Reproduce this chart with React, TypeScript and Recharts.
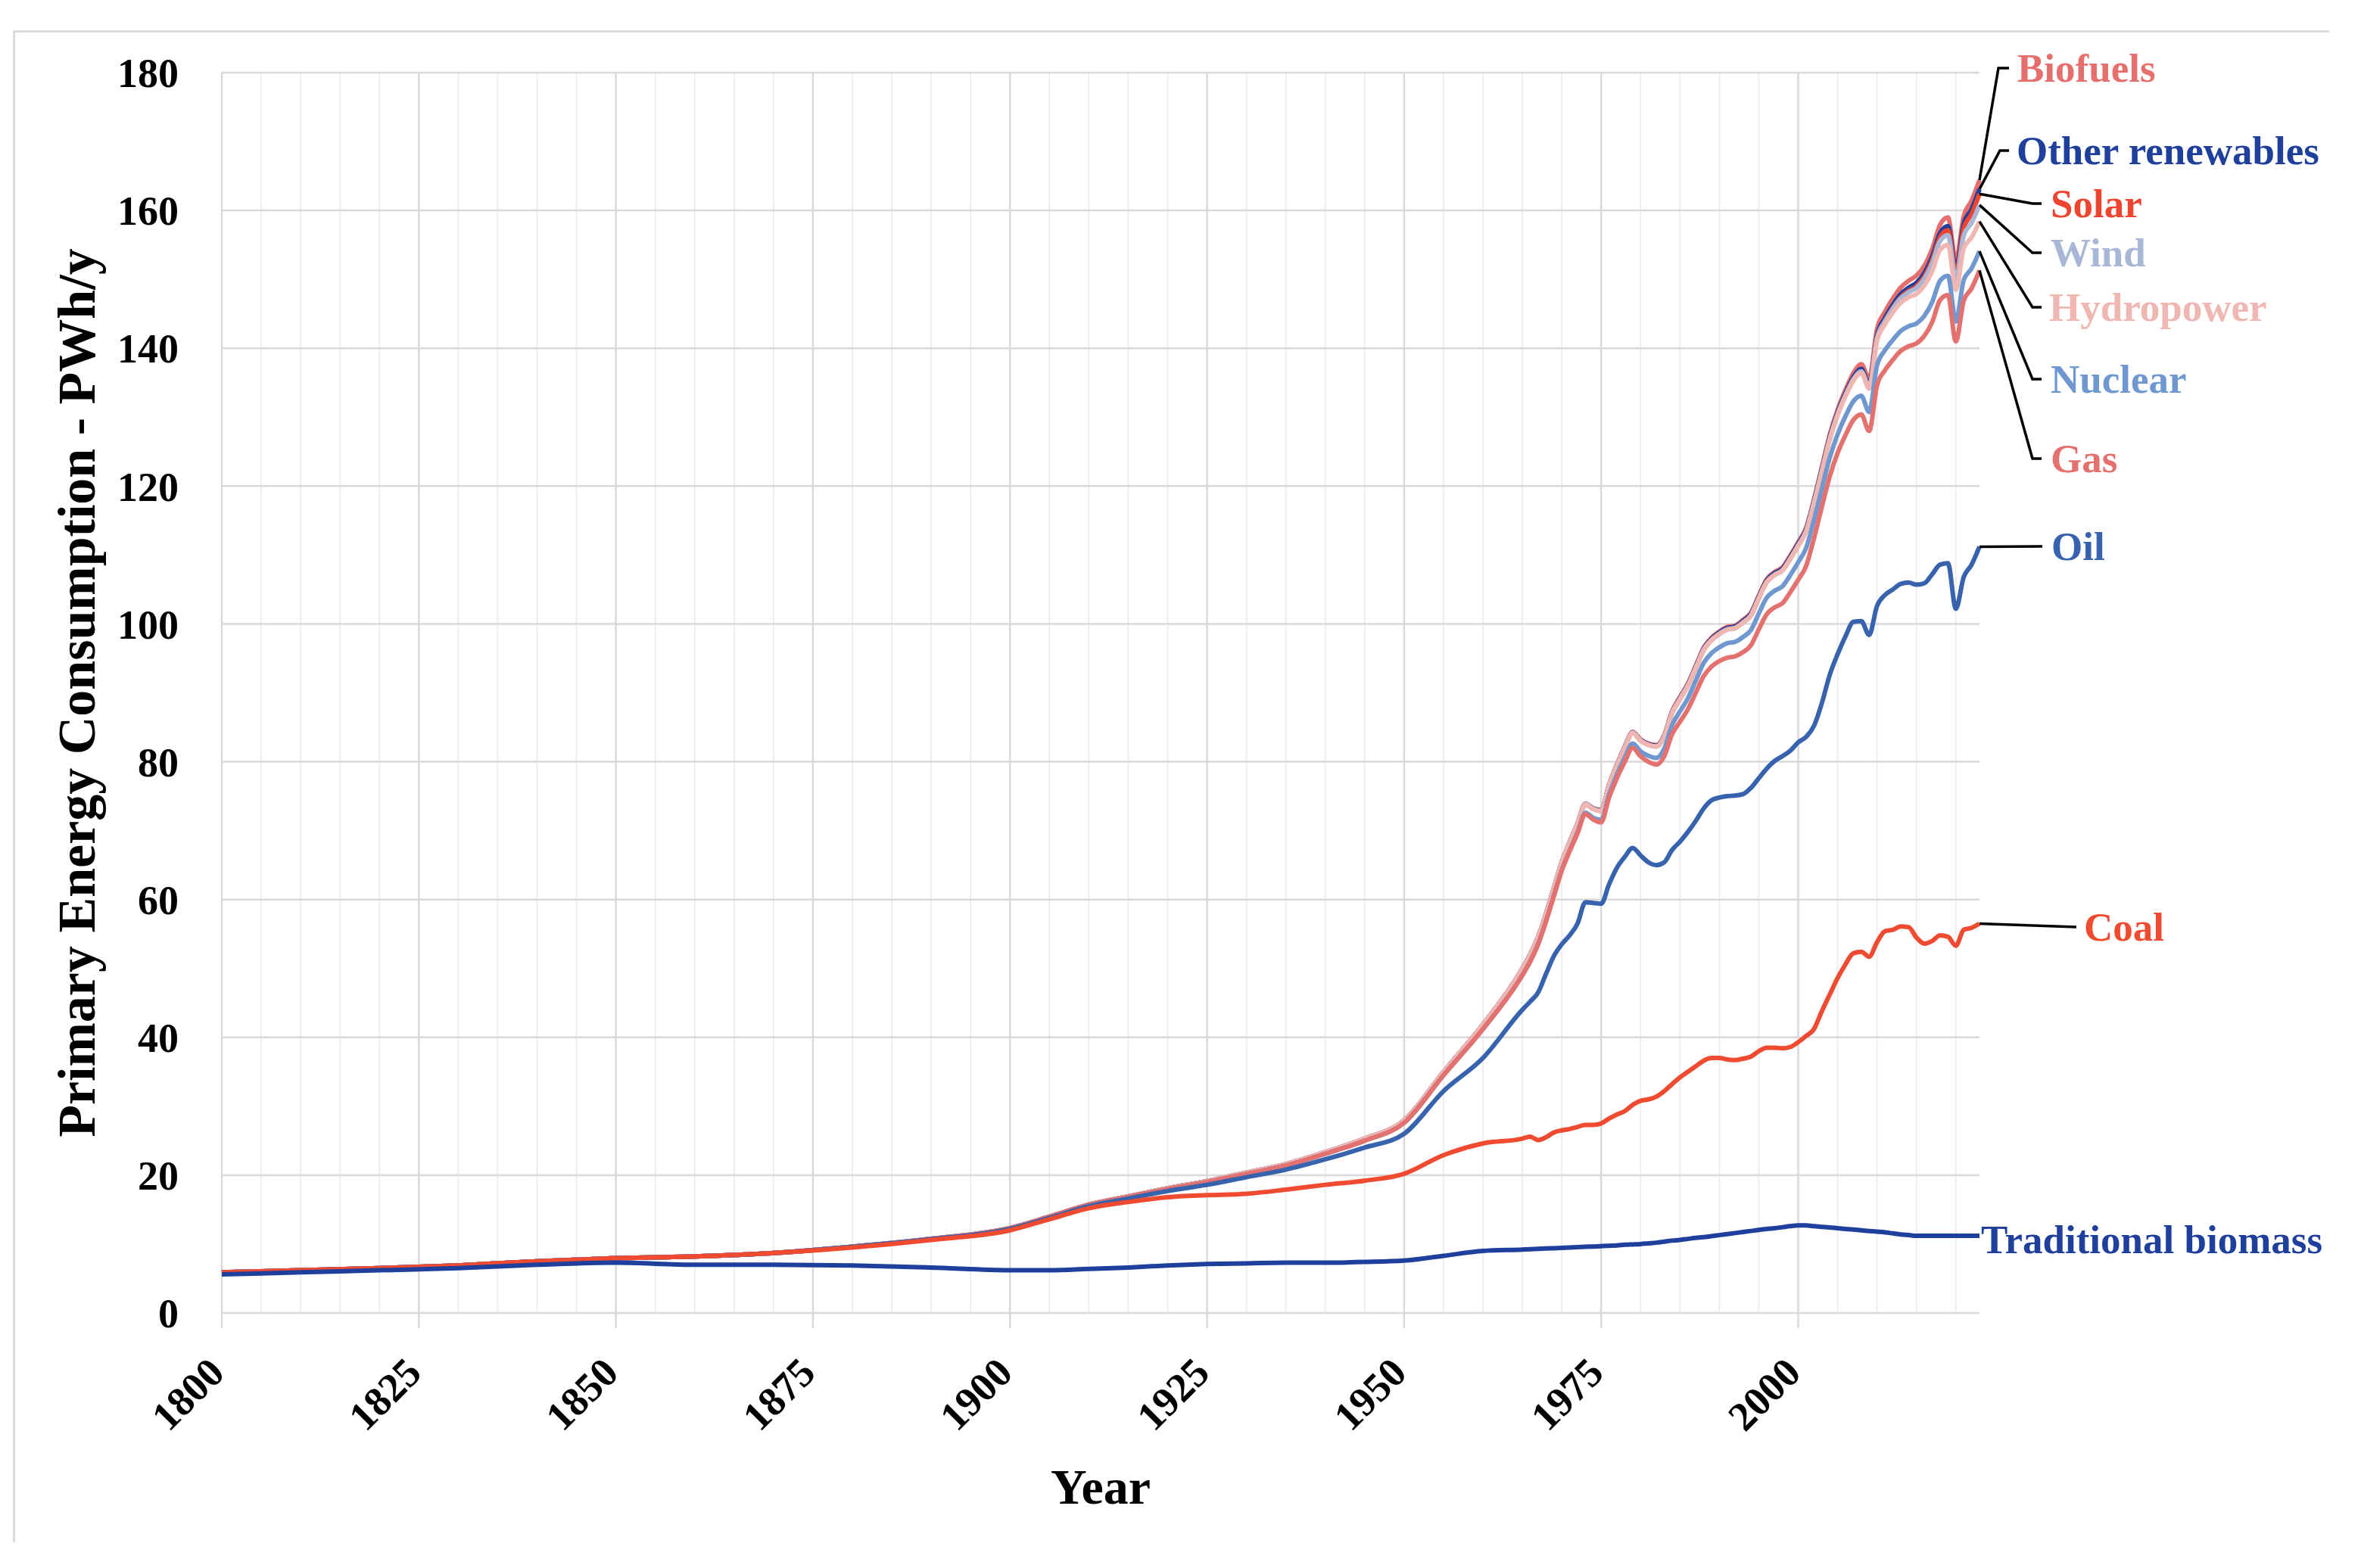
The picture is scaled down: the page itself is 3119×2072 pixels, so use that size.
import React from 'react';
import { LineChart, Line, XAxis, YAxis, CartesianGrid, Label } from 'recharts';

// ---------------- DATA (PWh/y, each source's own consumption) ----------------
const years = [
  1800, 1810, 1820, 1830, 1840, 1850, 1860, 1870, 1880, 1890,
  1900, 1905, 1910, 1915, 1920, 1925, 1930, 1935, 1940, 1945,
  1950, 1955, 1960,
  1965, 1966, 1967, 1968, 1969, 1970, 1971, 1972, 1973, 1974,
  1975, 1976, 1977, 1978, 1979, 1980, 1981, 1982, 1983, 1984,
  1985, 1986, 1987, 1988, 1989, 1990, 1991, 1992, 1993, 1994,
  1995, 1996, 1997, 1998, 1999, 2000, 2001, 2002, 2003, 2004,
  2005, 2006, 2007, 2008, 2009, 2010, 2011, 2012, 2013, 2014,
  2015, 2016, 2017, 2018, 2019, 2020, 2021, 2022, 2023,
];

const traditionalBiomass = [
  5.6, 5.9, 6.2, 6.5, 7.0, 7.3, 7.0, 7.0, 6.9, 6.6,
  6.2, 6.2, 6.4, 6.6, 6.9, 7.1, 7.2, 7.3, 7.3, 7.4,
  7.6, 8.3, 9.0,
  9.2, 9.25, 9.3, 9.35, 9.4, 9.45, 9.5, 9.55, 9.6, 9.65,
  9.7, 9.75, 9.8, 9.9, 9.95, 10.0, 10.1, 10.2, 10.35, 10.5,
  10.6, 10.75, 10.9, 11.0, 11.15, 11.3, 11.45, 11.6, 11.75, 11.9,
  12.05, 12.2, 12.3, 12.45, 12.6, 12.7, 12.7, 12.6, 12.5, 12.4,
  12.3, 12.2, 12.1, 12.0, 11.9, 11.8, 11.7, 11.55, 11.4, 11.3,
  11.2, 11.2, 11.2, 11.2, 11.2, 11.2, 11.2, 11.2, 11.2,
];

const coal = [
  0.3, 0.3, 0.3, 0.4, 0.5, 0.65, 1.2, 1.7, 2.6, 4.0,
  5.8, 7.4, 8.8, 9.5, 9.9, 10.0, 10.1, 10.6, 11.3, 11.8,
  12.6, 14.6, 15.6,
  16.1, 16.35, 15.8, 16.15, 16.8, 17.05, 17.2, 17.45, 17.7, 17.65,
  17.8, 18.45, 19.0, 19.4, 20.25, 20.8, 20.9, 21.2, 21.85, 22.7,
  23.6, 24.25, 24.9, 25.6, 25.85, 25.7, 25.35, 25.1, 25.15, 25.3,
  25.95, 26.3, 26.2, 25.95, 26.0, 26.6, 27.5, 28.6, 31.3, 33.8,
  36.3, 38.4, 40.1, 40.4, 39.8, 42.0, 43.7, 44.05, 44.7, 44.7,
  43.3, 42.4, 42.8, 43.6, 43.4, 42.1, 44.4, 44.7, 45.3,
];

const oil = [
  0, 0, 0, 0, 0, 0, 0, 0, 0.1, 0.1,
  0.2, 0.2, 0.3, 0.5, 0.9, 1.5, 2.4, 2.9, 3.7, 4.8,
  5.8, 9.3, 12.4,
  18.7, 19.6, 21.4, 23.7, 25.6, 27.0, 28.1, 29.5, 32.3, 32.2,
  31.9, 34.0, 35.8, 36.9, 37.3, 35.6, 34.4, 33.6, 33.2, 34.0,
  34.2, 34.8, 35.6, 36.6, 37.4, 37.8, 38.2, 38.4, 38.4, 39.0,
  39.6, 40.5, 41.6, 42.4, 43.0, 43.5, 43.4, 44.0, 44.7, 46.4,
  47.0, 47.6, 48.1, 48.0, 46.7, 48.8, 48.8, 49.4, 49.7, 50.0,
  51.2, 52.3, 53.2, 53.8, 54.2, 48.9, 51.2, 52.7, 54.7,
];

const gas = [
  0, 0, 0, 0, 0, 0, 0, 0, 0.02, 0.05,
  0.1, 0.15, 0.2, 0.25, 0.3, 0.4, 0.5, 0.6, 0.8, 1.0,
  1.6, 2.3, 4.2,
  5.0, 5.8, 7.0, 7.6, 8.7, 10.7, 12.2, 13.1, 12.8, 12.1,
  11.8, 12.6, 13.0, 13.8, 14.5, 14.4, 14.6, 14.6, 15.4, 16.8,
  17.4, 17.8, 18.6, 19.2, 19.4, 19.8, 20.1, 20.2, 20.6, 20.7,
  21.6, 22.4, 22.3, 22.2, 23.0, 23.6, 24.8, 27.2, 28.5, 28.8,
  29.2, 29.2, 29.3, 30.0, 29.6, 32.0, 32.6, 33.3, 33.8, 34.3,
  35.0, 35.9, 36.6, 38.4, 38.9, 38.8, 40.1, 40.1, 40.1,
];

const nuclear = [
  0, 0, 0, 0, 0, 0, 0, 0, 0, 0,
  0, 0, 0, 0, 0, 0, 0, 0, 0, 0,
  0, 0, 0.01,
  0.03, 0.04, 0.05, 0.06, 0.07, 0.08, 0.11, 0.15, 0.2, 0.25,
  0.35, 0.4, 0.5, 0.6, 0.65, 0.7, 0.85, 0.95, 1.1, 1.3,
  1.5, 1.6, 1.75, 1.9, 1.95, 2.0, 2.1, 2.1, 2.2, 2.2,
  2.3, 2.4, 2.4, 2.45, 2.5, 2.55, 2.6, 2.65, 2.6, 2.7,
  2.7, 2.75, 2.7, 2.7, 2.75, 2.9, 2.9, 2.9, 2.9, 2.9,
  2.9, 2.9, 2.9, 2.8, 2.8, 2.9, 3.0, 2.9, 2.8,
];

const hydropower = [
  0, 0, 0, 0, 0, 0, 0, 0, 0, 0.01,
  0.02, 0.03, 0.05, 0.07, 0.1, 0.13, 0.17, 0.2, 0.25, 0.3,
  0.35, 0.5, 0.65,
  0.9, 0.95, 0.97, 1.0, 1.05, 1.1, 1.15, 1.2, 1.22, 1.3,
  1.33, 1.35, 1.38, 1.48, 1.55, 1.58, 1.6, 1.65, 1.72, 1.76,
  1.8, 1.82, 1.85, 1.9, 1.9, 1.95, 2.0, 2.0, 2.1, 2.12,
  2.2, 2.25, 2.3, 2.3, 2.35, 2.4, 2.4, 2.45, 2.5, 2.65,
  2.8, 2.9, 3.0, 3.3, 3.4, 3.6, 3.75, 4.0, 4.1, 4.2,
  4.3, 4.4, 4.5, 4.5, 4.5, 4.6, 4.6, 4.5, 4.3,
];

const wind = [
  0, 0, 0, 0, 0, 0, 0, 0, 0, 0,
  0, 0, 0, 0, 0, 0, 0, 0, 0, 0,
  0, 0, 0,
  0, 0, 0, 0, 0, 0, 0, 0, 0, 0,
  0, 0, 0, 0, 0, 0, 0, 0, 0, 0,
  0, 0, 0, 0, 0, 0.005, 0.006, 0.008, 0.01, 0.01,
  0.015, 0.02, 0.02, 0.03, 0.04, 0.05, 0.06, 0.07, 0.09, 0.1,
  0.12, 0.15, 0.19, 0.24, 0.3, 0.37, 0.45, 0.55, 0.65, 0.72,
  0.85, 0.97, 1.13, 1.27, 1.42, 1.6, 1.85, 2.1, 2.4,
];

const solar = [
  0, 0, 0, 0, 0, 0, 0, 0, 0, 0,
  0, 0, 0, 0, 0, 0, 0, 0, 0, 0,
  0, 0, 0,
  0, 0, 0, 0, 0, 0, 0, 0, 0, 0,
  0, 0, 0, 0, 0, 0, 0, 0, 0, 0,
  0, 0, 0, 0, 0, 0, 0, 0, 0, 0,
  0, 0, 0, 0, 0, 0.001, 0.001, 0.002, 0.002, 0.003,
  0.004, 0.006, 0.008, 0.012, 0.02, 0.03, 0.06, 0.1, 0.14, 0.19,
  0.25, 0.33, 0.44, 0.57, 0.7, 0.85, 1.03, 1.3, 1.6,
];

const otherRenewables = [
  0, 0, 0, 0, 0, 0, 0, 0, 0, 0,
  0, 0, 0, 0, 0, 0, 0, 0, 0, 0,
  0, 0, 0,
  0.05, 0.05, 0.05, 0.05, 0.06, 0.06, 0.06, 0.07, 0.07, 0.07,
  0.08, 0.08, 0.08, 0.09, 0.09, 0.1, 0.11, 0.12, 0.13, 0.14,
  0.15, 0.16, 0.17, 0.18, 0.19, 0.2, 0.2, 0.21, 0.21, 0.22,
  0.22, 0.23, 0.23, 0.24, 0.24, 0.25, 0.26, 0.27, 0.28, 0.29,
  0.3, 0.31, 0.32, 0.34, 0.36, 0.4, 0.42, 0.44, 0.46, 0.48,
  0.5, 0.52, 0.55, 0.58, 0.62, 0.65, 0.67, 0.69, 0.7,
];

const biofuels = [
  0, 0, 0, 0, 0, 0, 0, 0, 0, 0,
  0, 0, 0, 0, 0, 0, 0, 0, 0, 0,
  0, 0, 0,
  0, 0, 0, 0, 0, 0, 0, 0, 0, 0,
  0.01, 0.01, 0.02, 0.03, 0.04, 0.05, 0.07, 0.09, 0.11, 0.13,
  0.15, 0.15, 0.15, 0.15, 0.15, 0.15, 0.16, 0.16, 0.17, 0.17,
  0.18, 0.18, 0.19, 0.19, 0.2, 0.2, 0.21, 0.23, 0.26, 0.3,
  0.35, 0.45, 0.58, 0.7, 0.8, 0.9, 0.9, 0.9, 0.95, 1.0,
  1.05, 1.05, 1.1, 1.2, 1.25, 1.1, 1.15, 1.25, 1.3,
];

const yTicks = [0, 20, 40, 60, 80, 100, 120, 140, 160, 180];
const xTicks = [1800, 1825, 1850, 1875, 1900, 1925, 1950, 1975, 2000];
const minorXTicks = [
  1805, 1810, 1815, 1820, 1830, 1835, 1840, 1845, 1855, 1860, 1865, 1870,
  1880, 1885, 1890, 1895, 1905, 1910, 1915, 1920, 1930, 1935, 1940, 1945,
  1955, 1960, 1965, 1970, 1980, 1985, 1990, 1995, 2005, 2010, 2015, 2020,
];

// ---------------- SERIES (stack order, bottom to top) ----------------
const FONT = "'Liberation Serif', 'Times New Roman', serif";

type Leader = 'none' | 'straight' | 'elbow';
interface SeriesCfg {
  key: string;
  name: string;
  values: number[];
  color: string;
  tx: number;
  ty: number;
  leader: Leader;
  ex?: number;
  hx?: number;
}

const SERIES: SeriesCfg[] = [
  { key: 'biomass', name: 'Traditional biomass', values: traditionalBiomass, color: '#1F3F9C', tx: 2617, ty: 1638, leader: 'none' },
  { key: 'coal', name: 'Coal', values: coal, color: '#F04B31', tx: 2753, ty: 1225, leader: 'straight', hx: 2743 },
  { key: 'oil', name: 'Oil', values: oil, color: '#3762AE', tx: 2710, ty: 722, leader: 'straight', hx: 2698 },
  { key: 'gas', name: 'Gas', values: gas, color: '#E4716E', tx: 2709, ty: 606, leader: 'elbow', ex: 2685, hx: 2697 },
  { key: 'nuclear', name: 'Nuclear', values: nuclear, color: '#6F97D0', tx: 2709, ty: 501, leader: 'elbow', ex: 2685, hx: 2697 },
  { key: 'hydro', name: 'Hydropower', values: hydropower, color: '#F0B6B1', tx: 2707, ty: 406, leader: 'elbow', ex: 2685, hx: 2697 },
  { key: 'wind', name: 'Wind', values: wind, color: '#A8B7D6', tx: 2709, ty: 334, leader: 'elbow', ex: 2685, hx: 2697 },
  { key: 'solar', name: 'Solar', values: solar, color: '#EF4530', tx: 2709, ty: 269, leader: 'elbow', ex: 2685, hx: 2697 },
  { key: 'other', name: 'Other renewables', values: otherRenewables, color: '#1F3F9C', tx: 2664, ty: 199, leader: 'elbow', ex: 2642, hx: 2654 },
  { key: 'biofuels', name: 'Biofuels', values: biofuels, color: '#E66F6D', tx: 2665, ty: 90, leader: 'elbow', ex: 2640, hx: 2654 },
];

// cumulative (stacked) table for the chart
const data = years.map((year, i) => {
  const row: Record<string, number> = { year };
  let acc = 0;
  SERIES.forEach((s) => {
    acc += s.values[i];
    row[s.key] = Math.round(acc * 1000) / 1000;
  });
  return row;
});

const W = 3119;
const H = 2072;
const PLOT_TOP = 96;
const PLOT_BOTTOM = 1735;
const PLOT_RIGHT = 2615;
const X_AXIS_H = 200;

const makeEndLabel = (s: SeriesCfg) => (props: any) => {
  const vb = props.viewBox || {};
  const px = props.x ?? vb.x;
  const py = props.y ?? vb.y;
  const idx = props.index;
  if (idx !== years.length - 1 || px == null || py == null) return null;
  let leader: React.ReactNode = null;
  if (s.leader === 'straight') {
    leader = <polyline points={`${px},${py} ${s.hx},${s.ty}`} fill="none" stroke="#000" strokeWidth={3.5} />;
  } else if (s.leader === 'elbow') {
    leader = (
      <polyline
        points={`${px},${py} ${s.ex},${s.ty} ${s.hx},${s.ty}`}
        fill="none"
        stroke="#000"
        strokeWidth={3.5}
        strokeLinejoin="miter"
      />
    );
  }
  return (
    <g>
      {leader}
      <text
        x={s.tx}
        y={s.ty}
        dominantBaseline="central"
        fontFamily={FONT}
        fontWeight={700}
        fontSize={53}
        fill={s.color}
      >
        {s.name}
      </text>
    </g>
  );
};

const XTick = (props: any) => {
  const { x, y, payload } = props;
  const ax = x + 6;
  const ay = y + 60;
  return (
    <text
      x={ax}
      y={ay}
      transform={`rotate(-45 ${ax} ${ay})`}
      textAnchor="end"
      fontFamily={FONT}
      fontWeight={700}
      fontSize={54}
      fill="#000"
    >
      {payload.value}
    </text>
  );
};

export default function App() {
  const drawOrder = [...SERIES].reverse();
  return (
    <div style={{ position: 'absolute', left: 0, top: 0, width: W, height: H, background: '#fff', overflow: 'hidden' }}>
      <div style={{ position: 'absolute', left: 17, top: 40, width: 3060, height: 3, background: '#dcdcdc' }} />
      <div style={{ position: 'absolute', left: 17, top: 40, width: 3, height: 1998, background: '#dcdcdc' }} />
      <div style={{ position: 'absolute', left: 0, top: 0 }}>
        <LineChart
          width={W}
          height={H}
          data={data}
          margin={{ top: PLOT_TOP, right: W - PLOT_RIGHT, bottom: H - PLOT_BOTTOM - X_AXIS_H, left: 0 }}
        >
          <CartesianGrid horizontal={false} verticalValues={minorXTicks} stroke="#eeeeee" strokeWidth={2} />
          <CartesianGrid horizontalValues={yTicks} verticalValues={xTicks} stroke="#d9d9d9" strokeWidth={2.5} />
          <XAxis
            type="number"
            dataKey="year"
            domain={[1800, 2023]}
            ticks={xTicks}
            interval={0}
            axisLine={false}
            tickLine={{ stroke: '#d9d9d9', strokeWidth: 2.5 }}
            tickSize={20}
            tick={<XTick />}
            height={X_AXIS_H}
          >
            <Label
              content={(p: any) => {
                const vb = p.viewBox || { x: 293, width: PLOT_RIGHT - 293 };
                const cx = vb.x + vb.width / 2;
                return (
                  <text x={cx} y={1987} textAnchor="middle" fontFamily={FONT} fontWeight={700} fontSize={66} fill="#000">
                    Year
                  </text>
                );
              }}
            />
          </XAxis>
          <YAxis
            type="number"
            domain={[0, 180]}
            ticks={yTicks}
            interval={0}
            axisLine={false}
            tickLine={false}
            width={293}
            tickMargin={51}
            tick={{ fontSize: 54, fontWeight: 700, fill: '#000', fontFamily: FONT }}
          >
            <Label
              content={(p: any) => {
                const vb = p.viewBox || { y: PLOT_TOP, height: PLOT_BOTTOM - PLOT_TOP };
                const cy = vb.y + vb.height / 2;
                return (
                  <text
                    x={125}
                    y={cy}
                    transform={`rotate(-90 125 ${cy})`}
                    textAnchor="middle"
                    fontFamily={FONT}
                    fontWeight={700}
                    fontSize={70}
                    fill="#000"
                  >
                    Primary Energy Consumption - PWh/y
                  </text>
                );
              }}
            />
          </YAxis>
          {drawOrder.map((s) => (
            <Line
              key={s.key}
              type="monotone"
              dataKey={s.key}
              name={s.name}
              stroke={s.color}
              strokeWidth={6}
              strokeLinejoin="round"
              dot={false}
              activeDot={false}
              isAnimationActive={false}
              label={makeEndLabel(s)}
            />
          ))}
        </LineChart>
      </div>
    </div>
  );
}
